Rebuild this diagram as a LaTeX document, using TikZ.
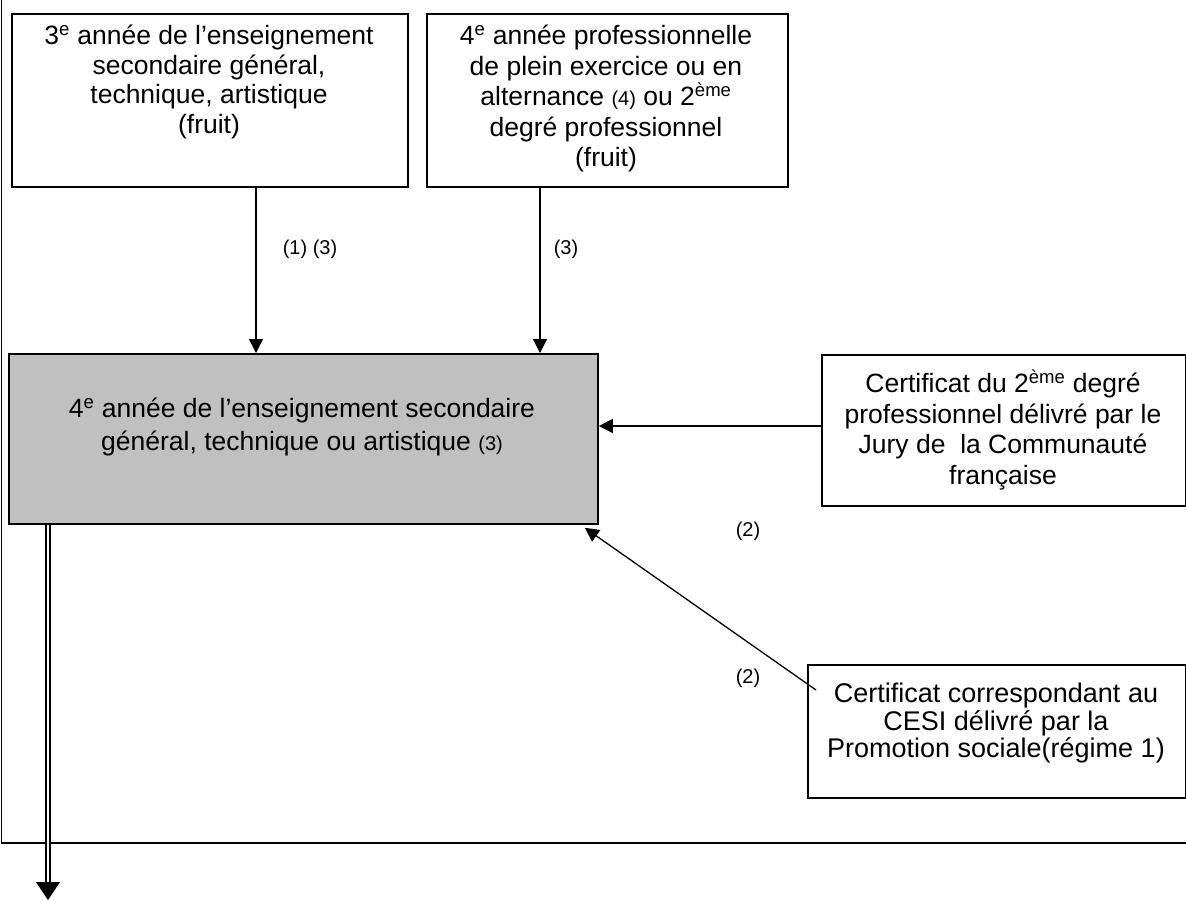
\documentclass[tikz,border=0pt]{standalone}
\usepackage{fontspec}
\setmainfont{Liberation Sans}
\usetikzlibrary{arrows.meta}
\definecolor{boxgray}{RGB}{192,192,192}
\begin{document}
\begin{tikzpicture}[x=1pt,y=-1pt,
  box/.style={draw, line width=1.8pt, inner sep=0pt, anchor=north west},
  txt/.style={align=center, inner sep=0pt, anchor=north, font=\fontsize{26.5}{30.5}\selectfont},
  lbl/.style={inner sep=0pt, font=\fontsize{20}{24}\selectfont},
  arr/.style={line width=1.3pt, -{Triangle[length=14pt,width=14pt]}},
  frameline/.style={line width=1.8pt}]
\useasboundingbox (0,0) rectangle (1186,900);
% frame
\draw[frameline] (1.5,0) -- (1.5,843) -- (1186,843);
% boxes
\node[box, minimum width=396pt, minimum height=173pt] (A) at (11,13) {};
\node[box, minimum width=361pt, minimum height=173pt] (B) at (426,13) {};
\node[box, fill=boxgray, minimum width=589pt, minimum height=170pt] (M) at (8,353) {};
\node[box, minimum width=364pt, minimum height=151pt] (C) at (821,354) {};
\node[box, minimum width=378pt, minimum height=133pt] (D) at (807,664) {};
% texts
\node[txt, font=\fontsize{26.5}{29.5}\selectfont] (tA) at (209,25) {3\textsuperscript{e} année de l’enseignement\\secondaire général,\\technique, artistique\\(fruit)};
\node[txt] (tB) at (606,25) {4\textsuperscript{e} année professionnelle\\de plein exercice ou en\\alternance {\fontsize{20}{24}\selectfont (4)} ou 2\textsuperscript{ème}\\degré professionnel\\(fruit)};
\node[txt, font=\fontsize{26.5}{33}\selectfont] (tM) at (302,398) {4\textsuperscript{e} année de l’enseignement secondaire\\général, technique ou artistique {\fontsize{20}{24}\selectfont (3)}};
\node[txt] (tC) at (1003,370) {Certificat du 2\textsuperscript{ème} degré\\professionnel délivré par le\\Jury de\ \ la Communauté\\française};
\node[txt, font=\fontsize{27}{27.5}\selectfont] (tD) at (996,683) {Certificat correspondant au\\CESI délivré par la\\Promotion sociale(régime 1)};
% labels
\node[lbl] (l13) at (310,249) {(1) (3)};
\node[lbl] (l3) at (566,249) {(3)};
\node[lbl] (l2a) at (748,531) {(2)};
\node[lbl] (l2b) at (748,678) {(2)};
% connectors
\coordinate (xa) at (256,0);
\coordinate (xb) at (540,0);
\coordinate (yc) at (0,426);
\draw[arr] (A.south -| xa) -- (M.north -| xa);
\draw[arr] (B.south -| xb) -- (M.north -| xb);
\draw[arr] (C.west |- yc) -- (M.east |- yc);
\coordinate (dstart) at ([shift={(9,26)}]D.north west);
\coordinate (dend) at ([shift={(-14,3)}]M.south east);
\draw[arr] (dstart) -- (dend);
% outgoing double arrow
\coordinate (out) at (48,900);
\draw[line width=1.6pt, double, double distance=2.5pt] (M.south -| out) -- ([yshift=17pt]out);
\fill ([xshift=-12pt,yshift=18pt]out) -- ([xshift=12pt,yshift=18pt]out) -- (out) -- cycle;
\end{tikzpicture}
\end{document}
